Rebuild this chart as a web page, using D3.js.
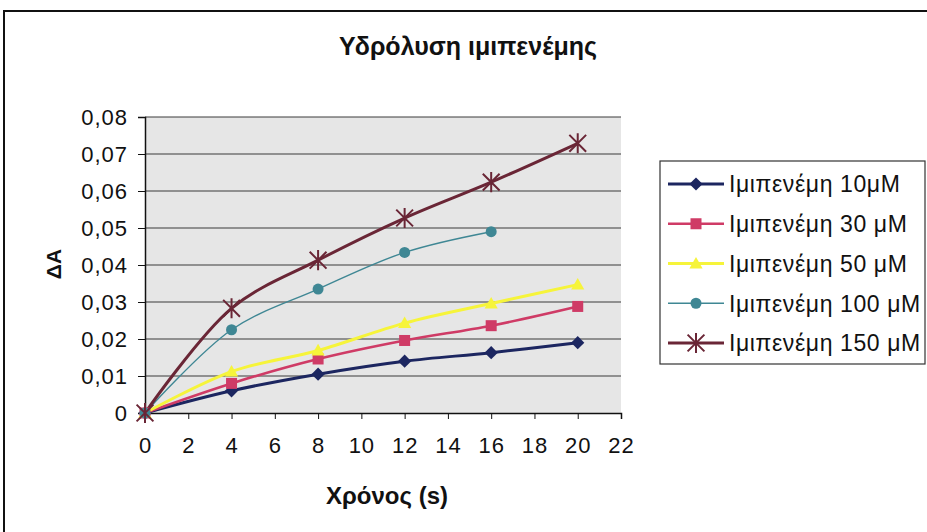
<!DOCTYPE html>
<html>
<head>
<meta charset="utf-8">
<script src="https://cdn.jsdelivr.net/npm/d3@7"></script>
<style>
  html, body { margin: 0; padding: 0; background: #fff; }
  svg { display: block; font-family: "Liberation Sans", Arial, sans-serif; }
</style>
</head>
<body>
<svg id="chart" width="927" height="532"></svg>
<script>
// Sampling times (s)
const times = [0, 4, 8, 12, 16, 20];
// Absorbance change ΔA per imipenem concentration
const imi10  = [0, 0.0060, 0.0105, 0.0140, 0.0163, 0.0190];
const imi30  = [0, 0.0080, 0.0146, 0.0196, 0.0236, 0.0288];
const imi50  = [0, 0.0112, 0.0169, 0.0243, 0.0296, 0.0347];
const imi100 = [0, 0.0225, 0.0335, 0.0434, 0.0490];
const imi150 = [0, 0.0283, 0.0413, 0.0527, 0.0624, 0.0729];

const seriesNames = ["Ιμιπενέμη 10μM", "Ιμιπενέμη 30 μM", "Ιμιπενέμη 50 μM", "Ιμιπενέμη 100 μM", "Ιμιπενέμη 150 μM"];
const xTicks = [0, 2, 4, 6, 8, 10, 12, 14, 16, 18, 20, 22];
const yTicks = [0, 0.01, 0.02, 0.03, 0.04, 0.05, 0.06, 0.07, 0.08];

const titleText = "Υδρόλυση ιμιπενέμης";
const xTitle = "Χρόνος (s)";
const yTitle = "ΔA";

const series = [
  { name: seriesNames[0], values: imi10,  color: "#1c2660", width: 3,   marker: "diamond" },
  { name: seriesNames[1], values: imi30,  color: "#cf3b66", width: 2.6, marker: "square" },
  { name: seriesNames[2], values: imi50,  color: "#f6f43a", width: 3,   marker: "triangle" },
  { name: seriesNames[3], values: imi100, color: "#3f8794", width: 1.4, marker: "circle" },
  { name: seriesNames[4], values: imi150, color: "#6a2636", width: 3,   marker: "star" }
];

const svg = d3.select("#chart");

// outer chart frame
svg.append("path")
  .attr("d", "M4,540 L4,11 L940,11")
  .attr("fill", "none").attr("stroke", "#111").attr("stroke-width", 2);

const plot = { left: 145, right: 621, top: 117, bottom: 413 };

const x = d3.scaleLinear().domain([0, 22]).range([plot.left, plot.right]);
const y = d3.scaleLinear().domain([0, 0.08]).range([plot.bottom, plot.top]);

// plot area background
svg.append("rect")
  .attr("x", plot.left).attr("y", plot.top)
  .attr("width", plot.right - plot.left).attr("height", plot.bottom - plot.top)
  .attr("fill", "#e6e6e6");

// horizontal gridlines
svg.append("g")
  .selectAll("line")
  .data(yTicks.filter(d => d > 0))
  .join("line")
  .attr("x1", plot.left).attr("x2", plot.right)
  .attr("y1", d => y(d)).attr("y2", d => y(d))
  .attr("stroke", "#3a3a3a").attr("stroke-width", 1);

const fmt = d => d === 0 ? "0" : d3.format(".2f")(d).replace(".", ",");

// y axis
const yAxis = svg.append("g")
  .attr("transform", `translate(${plot.left},0)`)
  .call(d3.axisLeft(y).tickValues(yTicks).tickFormat(fmt).tickSize(7).tickPadding(10));
yAxis.select(".domain").attr("stroke", "#111").attr("stroke-width", 1.5);
yAxis.selectAll(".tick line").attr("stroke", "#111");
yAxis.selectAll("text")
  .attr("font-size", 22).attr("fill", "#111")
  .attr("font-family", "Liberation Sans, Arial, sans-serif")
  .attr("letter-spacing", 1);

// x axis
const xAxis = svg.append("g")
  .attr("transform", `translate(0,${plot.bottom})`)
  .call(d3.axisBottom(x).tickValues(xTicks).tickFormat(d3.format("d")).tickSize(6).tickPadding(18));
xAxis.select(".domain").attr("stroke", "#111").attr("stroke-width", 1.5);
xAxis.selectAll(".tick line").attr("stroke", "#111");
xAxis.selectAll("text")
  .attr("font-size", 22).attr("fill", "#111")
  .attr("font-family", "Liberation Sans, Arial, sans-serif")
  .attr("letter-spacing", 1);

// titles
svg.append("text")
  .attr("x", 468).attr("y", 55)
  .attr("text-anchor", "middle")
  .attr("font-size", 25).attr("font-weight", "bold").attr("fill", "#111")
  .text(titleText);

svg.append("text")
  .attr("x", 387).attr("y", 504)
  .attr("text-anchor", "middle")
  .attr("font-size", 24).attr("font-weight", "bold").attr("fill", "#111")
  .text(xTitle);

svg.append("text")
  .attr("transform", "translate(61,264) rotate(-90)")
  .attr("text-anchor", "middle")
  .attr("font-size", 21).attr("font-weight", "bold").attr("fill", "#111")
  .text(yTitle);

// marker drawing
function drawMarker(g, type, color, size) {
  const s = size;
  if (type === "diamond") {
    g.append("path").attr("d", `M0,${-s*0.6} L${s*0.6},0 L0,${s*0.6} L${-s*0.6},0 Z`).attr("fill", color);
  } else if (type === "square") {
    g.append("rect").attr("x", -s/2).attr("y", -s/2).attr("width", s).attr("height", s).attr("fill", color);
  } else if (type === "triangle") {
    g.append("path").attr("d", `M0,${-s*0.6} L${s*0.6},${s*0.45} L${-s*0.6},${s*0.45} Z`).attr("fill", color);
  } else if (type === "circle") {
    g.append("circle").attr("r", s/2).attr("fill", color);
  } else if (type === "star") {
    const r = s * 0.6;
    const d = `M${-r},${-r} L${r},${r} M${r},${-r} L${-r},${r} M0,${-r*1.2} L0,${r*1.2}`;
    g.append("path").attr("d", d).attr("stroke", color).attr("stroke-width", 2).attr("fill", "none");
  }
}

const line = d3.line()
  .x((d, i) => x(times[i]))
  .y(d => y(d))
  .curve(d3.curveCatmullRom.alpha(0.5));

const plotG = svg.append("g");
series.forEach(s => {
  plotG.append("path")
    .datum(s.values)
    .attr("fill", "none")
    .attr("stroke", s.color)
    .attr("stroke-width", s.width)
    .attr("stroke-linejoin", "round")
    .attr("d", line);
});
series.forEach(s => {
  s.values.forEach((v, i) => {
    const g = plotG.append("g").attr("transform", `translate(${x(times[i])},${y(v)})`);
    drawMarker(g, s.marker, s.color, s.marker === "star" ? 14 : 11);
  });
});

// legend
const legend = svg.append("g");
legend.append("rect")
  .attr("x", 660).attr("y", 161).attr("width", 265).attr("height", 203)
  .attr("fill", "#fff").attr("stroke", "#333").attr("stroke-width", 1.2);

const legendY = d3.scalePoint().domain(seriesNames).range([184, 343]);
series.forEach(s => {
  const ly = legendY(s.name);
  legend.append("line")
    .attr("x1", 668).attr("x2", 724).attr("y1", ly).attr("y2", ly)
    .attr("stroke", s.color).attr("stroke-width", s.width);
  const g = legend.append("g").attr("transform", `translate(696,${ly})`);
  drawMarker(g, s.marker, s.color, s.marker === "star" ? 14 : 11);
  legend.append("text")
    .attr("x", 729).attr("y", ly)
    .attr("dy", "0.36em")
    .attr("font-size", 23).attr("fill", "#111")
    .attr("letter-spacing", 0.6)
    .text(s.name);
});
</script>
</body>
</html>
